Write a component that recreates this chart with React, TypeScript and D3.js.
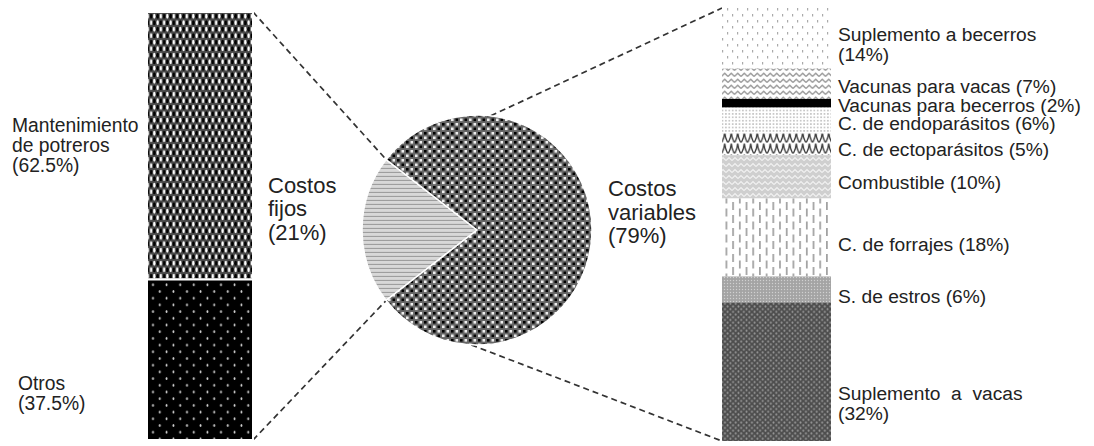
import React from "react";
import * as d3 from "d3";

// ---- data ----
const pieCats = ["Costos fijos", "Costos variables"];
const pieVals = [21, 79];

const fixedCats = ["Mantenimiento de potreros", "Otros"];
const fixedVals = [62.5, 37.5];

const varCats = [
  "Suplemento a becerros",
  "Vacunas para vacas",
  "Vacunas para becerros",
  "C. de endoparásitos",
  "C. de ectoparásitos",
  "Combustible",
  "C. de forrajes",
  "S. de estros",
  "Suplemento a vacas",
];
const varVals = [14, 7, 2, 6, 5, 10, 18, 6, 32];

// label lines as text
const pieLabelLines = [
  ["Costos", "fijos", "(21%)"],
  ["Costos", "variables", "(79%)"],
];
const fixedLabelLines = [
  ["Mantenimiento", "de potreros", "(62.5%)"],
  ["Otros", "(37.5%)"],
];
const varLabelLines = [
  ["Suplemento a becerros", "(14%)"],
  ["Vacunas para vacas (7%)"],
  ["Vacunas para becerros (2%)"],
  ["C. de endoparásitos (6%)"],
  ["C. de ectoparásitos (5%)"],
  ["Combustible (10%)"],
  ["C. de forrajes (18%)"],
  ["S. de estros (6%)"],
  ["Suplemento  a  vacas", "(32%)"],
];

// ---- layout ----
const W = 1094;
const H = 446;
const FONT = "'Liberation Sans', Arial, sans-serif";
const TXT = "#222";

const leftX0 = 147, leftX1 = 253, leftY0 = 12, leftY1 = 440;
const rightX0 = 722, rightX1 = 831, rightY0 = 8, rightY1 = 441;
const cx = 477, cy = 230, R = 115;

const fixedPatterns = ["pMant", "pOtros"];
const varPatterns = ["pSupB", "pVacV", "pVacB", "pEndo", "pEcto", "pComb", "pForr", "pEstr", "pSupV"];
const piePatterns = ["pFix", "pVar"];

const fixedLabelPos = [
  { x: 12, y: 131.5, dy: 20 },
  { x: 18, y: 390, dy: 20 },
];
const varLabelPos = [
  { y: 40.5, dy: 20 },
  { y: 93 },
  { y: 111.5 },
  { y: 130 },
  { y: 155.5 },
  { y: 189 },
  { y: 250.5 },
  { y: 303 },
  { y: 400, dy: 19.5 },
];
const pieLabelPos = [
  { x: 268, y: 192.5, dy: 23.5 },
  { x: 608, y: 196, dy: 23.5 },
];

function cumulate(vals: number[]) {
  let acc = 0;
  return vals.map((v) => {
    const s = acc;
    acc += v;
    return [s, acc];
  });
}

export default function App() {
  const yLeft = d3.scaleLinear().domain([0, d3.sum(fixedVals)]).range([leftY0, leftY1]);
  const yRight = d3.scaleLinear().domain([0, d3.sum(varVals)]).range([rightY0, rightY1]);

  const fixedFrac = pieVals[0] / d3.sum(pieVals);
  const start = -Math.PI / 2 - fixedFrac * Math.PI;
  const pieGen = d3
    .pie<number>()
    .sort(null)
    .startAngle(start)
    .endAngle(start + 2 * Math.PI);
  const arcs = pieGen(pieVals);
  const arcGen = d3.arc<d3.PieArcDatum<number>>().innerRadius(0).outerRadius(R);

  const pt = (a: number) => [cx + R * Math.sin(a), cy - R * Math.cos(a)];
  const fixedArc = arcs[0];
  const pUpper = pt(fixedArc.endAngle);
  const pLower = pt(fixedArc.startAngle);
  const pTop = pt(0.12);
  const pBottom = pt(Math.PI + 0.05);

  const fixedSegs = cumulate(fixedVals);
  const varSegs = cumulate(varVals);

  const dash = { stroke: "#333", strokeWidth: 1.7, strokeDasharray: "6,4", fill: "none" };

  return (
    <svg
      width={W}
      height={H}
      style={{ position: "absolute", left: 0, top: 0, background: "#fff" }}
      fontFamily={FONT}
    >
      <defs>
        <pattern id="pMant" width={6.5} height={13} patternUnits="userSpaceOnUse">
          <rect width={6.5} height={13} fill="#4a4a4a" />
          <ellipse cx={1.6} cy={3.25} rx={1.4} ry={2.6} fill="#000" />
          <ellipse cx={4.85} cy={3.25} rx={1.2} ry={2.4} fill="#fff" />
          <ellipse cx={1.6} cy={9.75} rx={1.2} ry={2.4} fill="#fff" />
          <ellipse cx={4.85} cy={9.75} rx={1.4} ry={2.6} fill="#000" />
        </pattern>
        <pattern id="pOtros" width={13.6} height={13.4} patternUnits="userSpaceOnUse">
          <rect width={13.6} height={13.4} fill="#000" />
          <ellipse cx={3.4} cy={3.3} rx={0.9} ry={1.5} fill="#ddd" />
          <ellipse cx={10.2} cy={10} rx={0.9} ry={1.5} fill="#ddd" />
        </pattern>
        <pattern id="pVar" width={9} height={9} patternUnits="userSpaceOnUse">
          <rect width={9} height={9} fill="#666" />
          <rect x={1} y={1} width={2.6} height={2.6} fill="#000" />
          <rect x={5.5} y={1} width={2.6} height={2.6} fill="#eee" />
          <rect x={1} y={5.5} width={2.6} height={2.6} fill="#eee" />
          <rect x={5.5} y={5.5} width={2.6} height={2.6} fill="#000" />
        </pattern>
        <pattern id="pFix" width={4} height={4} patternUnits="userSpaceOnUse">
          <rect width={4} height={4} fill="#d8d8d8" />
          <path d="M0,3 Q1,0.8 2,3 Q3,0.8 4,3" stroke="#8a8a8a" strokeWidth={0.8} fill="none" />
        </pattern>
        <pattern id="pSupB" width={10} height={12} patternUnits="userSpaceOnUse">
          <rect width={10} height={12} fill="#fff" />
          <rect x={2} y={2} width={1.2} height={2.5} fill="#aaa" />
          <rect x={7} y={8} width={1.2} height={2.5} fill="#aaa" />
        </pattern>
        <pattern id="pVacV" width={6.5} height={6} patternUnits="userSpaceOnUse">
          <rect width={6.5} height={6} fill="#fff" />
          <path d="M0,4.5 L3.25,1.2 L6.5,4.5" stroke="#999" strokeWidth={1.3} fill="none" />
        </pattern>
        <pattern id="pVacB" width={4} height={4} patternUnits="userSpaceOnUse">
          <rect width={4} height={4} fill="#000" />
        </pattern>
        <pattern id="pEndo" width={3.4} height={3.4} patternUnits="userSpaceOnUse">
          <rect width={3.4} height={3.4} fill="#fff" />
          <circle cx={1.7} cy={1.7} r={0.9} fill="#bbb" />
        </pattern>
        <pattern id="pEcto" width={6.5} height={11} patternUnits="userSpaceOnUse">
          <rect width={6.5} height={11} fill="#fff" />
          <path d="M0.3,10.5 Q2.8,6 3.25,0.5 Q3.8,6 6.2,10.5" stroke="#333" strokeWidth={1.3} fill="none" />
        </pattern>
        <pattern id="pComb" width={6} height={6} patternUnits="userSpaceOnUse">
          <rect width={6} height={6} fill="#cfcfcf" />
          <path d="M0,4.5 L3,1.5 L6,4.5" stroke="#f2f2f2" strokeWidth={1.2} fill="none" />
        </pattern>
        <pattern id="pForr" width={13.4} height={13} patternUnits="userSpaceOnUse">
          <rect width={13.4} height={13} fill="#fff" />
          <rect x={2} y={0.5} width={1.6} height={8} fill="#999" />
          <rect x={8.7} y={7} width={1.6} height={6} fill="#999" />
          <rect x={8.7} y={0} width={1.6} height={2} fill="#999" />
        </pattern>
        <pattern id="pEstr" width={3} height={3} patternUnits="userSpaceOnUse">
          <rect width={3} height={3} fill="#a4a4a4" />
          <circle cx={1.5} cy={1.5} r={0.7} fill="#d0d0d0" />
        </pattern>
        <pattern id="pSupV" width={5.4} height={5.4} patternUnits="userSpaceOnUse">
          <rect width={5.4} height={5.4} fill="#4e4e4e" />
          <ellipse cx={1.35} cy={1.35} rx={0.9} ry={1.1} fill="#9a9a9a" />
          <ellipse cx={4.05} cy={4.05} rx={0.9} ry={1.1} fill="#9a9a9a" />
        </pattern>
      </defs>

      {/* connectors (drawn beneath the pie) */}
      <line x1={leftX1} y1={leftY0} x2={pUpper[0]} y2={pUpper[1]} style={dash} />
      <line x1={leftX1} y1={leftY1} x2={pLower[0]} y2={pLower[1]} style={dash} />
      <line x1={pTop[0]} y1={pTop[1]} x2={rightX0} y2={rightY0} style={dash} />
      <line x1={pBottom[0]} y1={pBottom[1]} x2={rightX0} y2={rightY1} style={dash} />

      {/* left bar (fixed costs) */}
      <g>
        {fixedSegs.map(([a, b], i) => (
          <rect
            key={fixedCats[i]}
            x={leftX0}
            y={yLeft(a)}
            width={leftX1 - leftX0}
            height={yLeft(b) - yLeft(a)}
            fill={`url(#${fixedPatterns[i]})`}
            stroke="#fff"
            strokeWidth={2}
          />
        ))}
      </g>

      {/* right bar (variable costs) */}
      <g>
        {varSegs.map(([a, b], i) => (
          <rect
            key={varCats[i]}
            x={rightX0}
            y={yRight(a)}
            width={rightX1 - rightX0}
            height={yRight(b) - yRight(a)}
            fill={`url(#${varPatterns[i]})`}
          />
        ))}
      </g>

      {/* pie */}
      <g transform={`translate(${cx},${cy})`}>
        {arcs.map((a, i) => (
          <path
            key={pieCats[i]}
            d={arcGen(a) || ""}
            fill={`url(#${piePatterns[i]})`}
            stroke="#fff"
            strokeWidth={1.5}
          />
        ))}
      </g>

      {/* labels */}
      {fixedLabelLines.map((lines, i) => (
        <text key={"fl" + i} fontSize={19.3} fill={TXT}>
          {lines.map((l, j) => (
            <tspan key={j} x={fixedLabelPos[i].x} y={fixedLabelPos[i].y + j * fixedLabelPos[i].dy}>
              {l}
            </tspan>
          ))}
        </text>
      ))}
      {pieLabelLines.map((lines, i) => (
        <text key={"pl" + i} fontSize={22} fill={TXT}>
          {lines.map((l, j) => (
            <tspan key={j} x={pieLabelPos[i].x} y={pieLabelPos[i].y + j * pieLabelPos[i].dy}>
              {l}
            </tspan>
          ))}
        </text>
      ))}
      {varLabelLines.map((lines, i) => (
        <text key={"vl" + i} fontSize={19.2} fill={TXT} style={{ whiteSpace: "pre" }}>
          {lines.map((l, j) => (
            <tspan key={j} x={838} y={varLabelPos[i].y + j * (varLabelPos[i].dy || 20)}>
              {l}
            </tspan>
          ))}
        </text>
      ))}
    </svg>
  );
}
